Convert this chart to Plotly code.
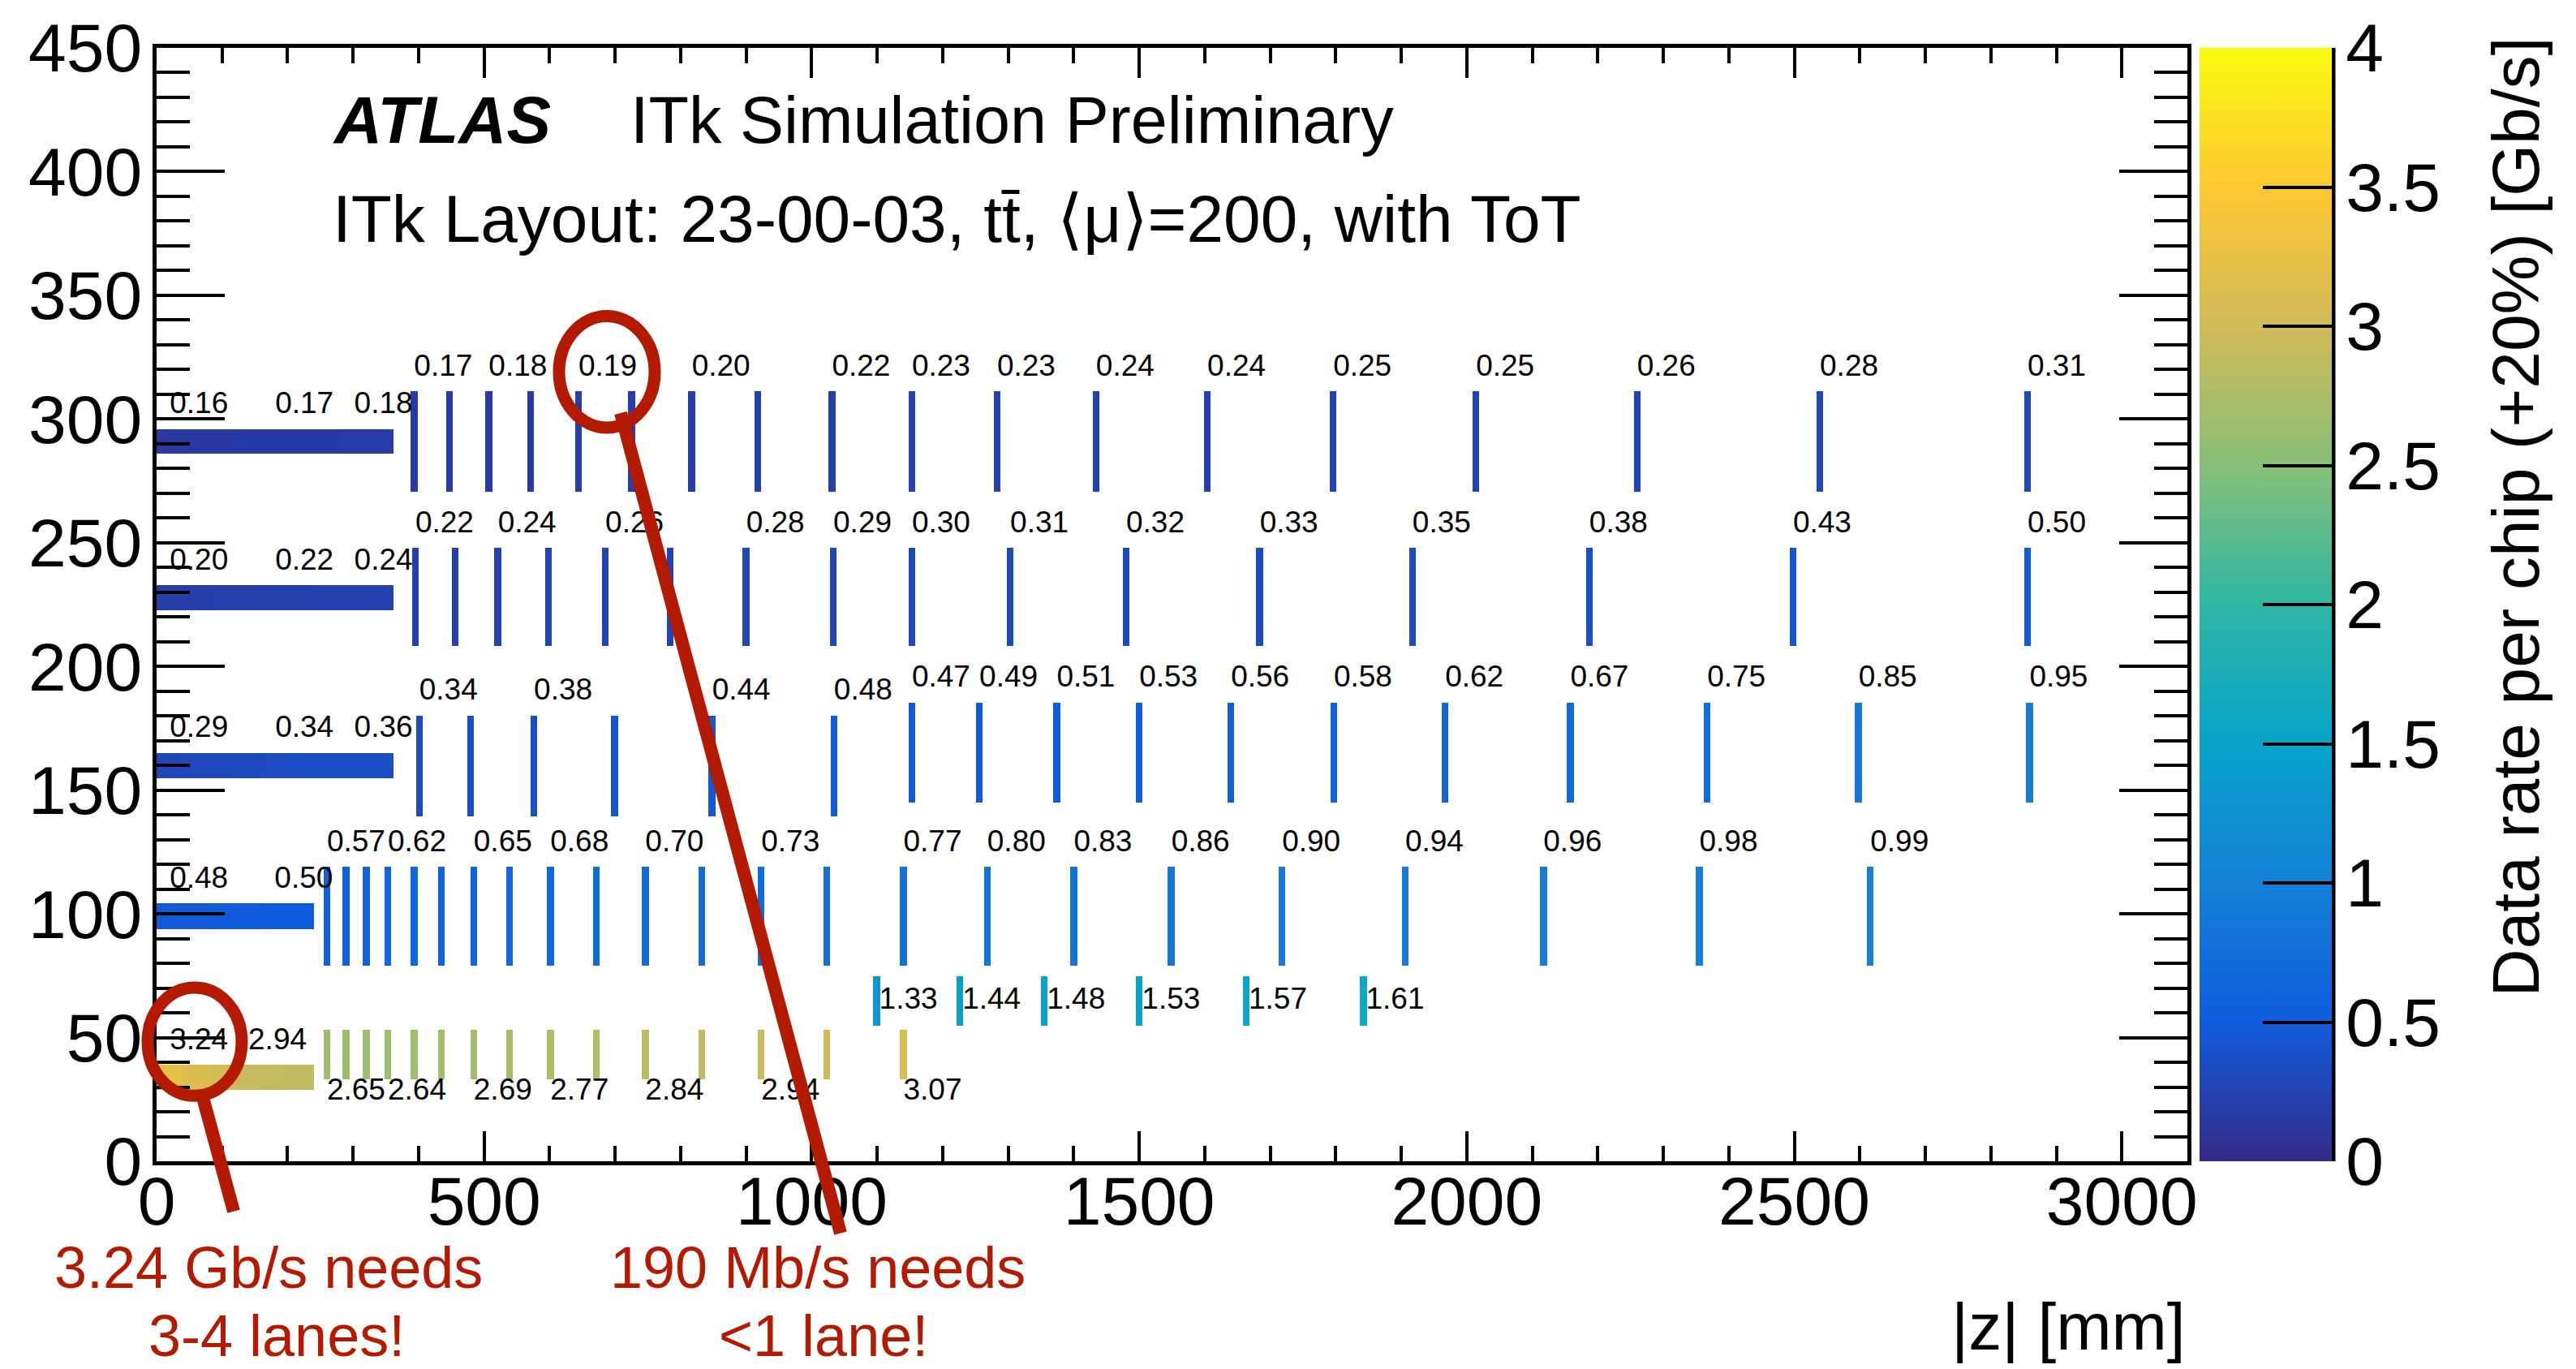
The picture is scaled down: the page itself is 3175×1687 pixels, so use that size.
import plotly.graph_objects as go

# ---------------------------------------------------------------------------
# Colour palette (ROOT kBird) and axis ticks
# ---------------------------------------------------------------------------
bird_stops = [0.0, 0.125, 0.25, 0.375, 0.5, 0.625, 0.75, 0.875, 1.0]
bird_red = [0.2082, 0.0592, 0.0780, 0.0232, 0.1802, 0.5301, 0.8186, 0.9956, 0.9764]
bird_green = [0.1664, 0.3599, 0.5041, 0.6419, 0.7178, 0.7492, 0.7328, 0.7862, 0.9832]
bird_blue = [0.5293, 0.8684, 0.8385, 0.7914, 0.6425, 0.4662, 0.3499, 0.1968, 0.0539]

rate_ticks = [0, 0.5, 1, 1.5, 2, 2.5, 3, 3.5, 4]
rate_tick_text = ["0", "0.5", "1", "1.5", "2", "2.5", "3", "3.5", "4"]
z_ticks = [0, 500, 1000, 1500, 2000, 2500, 3000]
r_ticks = [0, 50, 100, 150, 200, 250, 300, 350, 400, 450]

# ---------------------------------------------------------------------------
# Flat barrel staves: radial extent [mm], length along |z| [mm], module rates
# ---------------------------------------------------------------------------
barrel_r_lo = [28.8, 93.7, 154.8, 222.7, 286.1]
barrel_r_hi = [39.0, 104.3, 165.1, 232.8, 295.9]
barrel_length = [240, 240, 362, 362, 362]
l0_barrel_rate = [3.24, 3.12, 3.02, 2.94, 2.90, 2.88]
l1_barrel_rate = [0.48, 0.48, 0.49, 0.49, 0.50, 0.50]
l2_barrel_rate = [0.29, 0.30, 0.31, 0.33, 0.34, 0.35, 0.35, 0.36, 0.36]
l3_barrel_rate = [0.20, 0.20, 0.21, 0.21, 0.22, 0.22, 0.23, 0.24, 0.24]
l4_barrel_rate = [0.16, 0.16, 0.16, 0.17, 0.17, 0.17, 0.17, 0.18, 0.18]
barrel_labelled = [[0, 3], [0, 4], [0, 4, 7], [0, 4, 7], [0, 4, 7]]

# ---------------------------------------------------------------------------
# Inclined modules / rings: |z| position [mm], radial extent [mm], rates
# ---------------------------------------------------------------------------
l0_ring_z = [260, 289, 320, 353, 393, 435, 484, 539, 601, 671, 746, 832, 923, 1023, 1140]
l0_ring_rate = [2.65, 2.64, 2.64, 2.64, 2.65, 2.67, 2.69, 2.73, 2.77, 2.80, 2.84, 2.89,
                2.94, 3.00, 3.07]
l0_ring_r = (33.0, 53.1)
l0_ring_labelled = [0, 3, 6, 8, 10, 12, 14]

l0_outer_z = [1099, 1226, 1355, 1500, 1663, 1842]
l0_outer_rate = [1.33, 1.44, 1.48, 1.53, 1.57, 1.61]
l0_outer_r = (54.8, 74.9)
l0_outer_labelled = [0, 1, 2, 3, 4, 5]

l1_ring_z = [260, 289, 320, 353, 393, 435, 484, 539, 601, 671, 746, 832, 923, 1023, 1140,
             1268, 1400, 1549, 1718, 1906, 2117, 2355, 2616]
l1_ring_rate = [0.57, 0.59, 0.60, 0.62, 0.63, 0.64, 0.65, 0.67, 0.68, 0.69, 0.70, 0.72,
                0.73, 0.75, 0.77, 0.80, 0.83, 0.86, 0.90, 0.94, 0.96, 0.98, 0.99]
l1_ring_r = (79.0, 119.0)
l1_ring_labelled = [0, 3, 6, 8, 10, 12, 14, 15, 16, 17, 18, 19, 20, 21, 22]

l2_incl_z = [401, 479, 576, 699, 848, 1034]
l2_incl_rate = [0.34, 0.36, 0.38, 0.41, 0.44, 0.48]
l2_incl_r = (139.4, 180.2)
l2_incl_labelled = [0, 2, 4, 5]

l2_ring_z = [1153, 1256, 1374, 1500, 1640, 1797, 1967, 2158, 2367, 2598, 2859]
l2_ring_rate = [0.47, 0.49, 0.51, 0.53, 0.56, 0.58, 0.62, 0.67, 0.75, 0.85, 0.95]
l2_ring_r = (144.9, 185.4)
l2_ring_labelled = [0, 1, 2, 3, 4, 5, 6, 7, 8, 9, 10]

l3_ring_z = [395, 456, 521, 598, 685, 784, 900, 1033, 1153, 1303, 1480, 1684, 1917, 2187,
             2498, 2856]
l3_ring_rate = [0.22, 0.23, 0.24, 0.25, 0.26, 0.27, 0.28, 0.29, 0.30, 0.31, 0.32, 0.33,
                0.35, 0.38, 0.43, 0.50]
l3_ring_r = (208.3, 247.9)
l3_ring_labelled = [0, 2, 4, 6, 7, 8, 9, 10, 11, 12, 13, 14, 15]

l4_ring_z = [393, 447, 507, 571, 644, 725, 817, 918, 1031, 1153, 1283, 1434, 1604, 1796,
             2014, 2260, 2539, 2856]
l4_ring_rate = [0.17, 0.17, 0.18, 0.18, 0.19, 0.19, 0.20, 0.21, 0.22, 0.23, 0.23, 0.24,
                0.24, 0.25, 0.25, 0.26, 0.28, 0.31]
l4_ring_r = (270.7, 311.2)
l4_ring_labelled = [0, 2, 4, 6, 8, 9, 10, 11, 12, 13, 14, 15, 16, 17]

# ---------------------------------------------------------------------------
# Styling constants
# ---------------------------------------------------------------------------
FONT = "Liberation Sans, Arial, Helvetica, sans-serif"
RED = "#B31A00"
RING_WIDTH = 10.5          # mm along |z|
LABEL_GAP_ABOVE = 9.4      # mm above the module top
LABEL_GAP_BELOW = 4.9      # mm below the module bottom
W, H = 3175, 1687
PLOT_L, PLOT_T, PLOT_W, PLOT_H = 193, 53, 2503, 1378


def fx(px):
    return (px - PLOT_L) / PLOT_W


def fy(py):
    return (PLOT_T + PLOT_H - py) / PLOT_H


bird = [[s, "rgb({},{},{})".format(round(r * 255), round(g * 255), round(b * 255))]
        for s, r, g, b in zip(bird_stops, bird_red, bird_green, bird_blue)]

# ---------------------------------------------------------------------------
# Assemble bars and their value labels
# ---------------------------------------------------------------------------
labels = {"above": ([], [], []), "below": ([], [], []), "beside": ([], [], [])}


def add_label(where, z, r, value):
    xs, ys, ts = labels[where]
    xs.append(z)
    ys.append(r)
    ts.append("{:.2f}".format(value))


# barrel staves -> horizontal bars, one per module
barrel_rates = [l0_barrel_rate, l1_barrel_rate, l2_barrel_rate, l3_barrel_rate, l4_barrel_rate]
hb_y, hb_x, hb_base, hb_w, hb_c = [], [], [], [], []
for lo, hi, length, rates, lab in zip(barrel_r_lo, barrel_r_hi, barrel_length,
                                      barrel_rates, barrel_labelled):
    step = length / len(rates)
    for i, v in enumerate(rates):
        hb_y.append((lo + hi) / 2)
        hb_x.append(step)
        hb_base.append(i * step)
        hb_w.append(hi - lo)
        hb_c.append(v)
    for i in lab:
        z0 = (i + 0.5) * step
        add_label("above", z0, hi + LABEL_GAP_ABOVE, rates[i])

# inclined modules / rings -> vertical bars
ring_groups = [
    (l0_ring_z, l0_ring_rate, l0_ring_r, l0_ring_labelled, "below"),
    (l0_outer_z, l0_outer_rate, l0_outer_r, l0_outer_labelled, "beside"),
    (l1_ring_z, l1_ring_rate, l1_ring_r, l1_ring_labelled, "above"),
    (l2_incl_z, l2_incl_rate, l2_incl_r, l2_incl_labelled, "above"),
    (l2_ring_z, l2_ring_rate, l2_ring_r, l2_ring_labelled, "above"),
    (l3_ring_z, l3_ring_rate, l3_ring_r, l3_ring_labelled, "above"),
    (l4_ring_z, l4_ring_rate, l4_ring_r, l4_ring_labelled, "above"),
]
vb_x, vb_y, vb_base, vb_c = [], [], [], []
for zs, rates, (lo, hi), lab, where in ring_groups:
    for z, v in zip(zs, rates):
        vb_x.append(z)
        vb_base.append(lo)
        vb_y.append(hi - lo)
        vb_c.append(v)
    for i in lab:
        if where == "above":
            add_label(where, zs[i], hi + LABEL_GAP_ABOVE, rates[i])
        elif where == "below":
            add_label(where, zs[i], lo - LABEL_GAP_BELOW, rates[i])
        else:
            add_label(where, zs[i] + 4, (lo + hi) / 2, rates[i])

fig = go.Figure()
fig.add_trace(go.Bar(
    orientation="h", y=hb_y, x=hb_x, base=hb_base, width=hb_w,
    marker=dict(color=hb_c, coloraxis="coloraxis", line=dict(width=0)),
    hoverinfo="skip", showlegend=False,
))
fig.add_trace(go.Bar(
    x=vb_x, y=vb_y, base=vb_base, width=[RING_WIDTH] * len(vb_x),
    marker=dict(color=vb_c, coloraxis="coloraxis", line=dict(width=0)),
    hoverinfo="skip", showlegend=False,
))
for where, (xs, ys, ts) in labels.items():
    fig.add_trace(go.Scatter(
        x=xs, y=ys, text=ts, mode="text", textposition="middle right",
        textfont=dict(family=FONT, size=37, color="black"),
        cliponaxis=False, hoverinfo="skip", showlegend=False,
    ))

axis_common = dict(
    showline=True, linewidth=5, linecolor="black", mirror="ticks",
    ticks="inside", tickwidth=4, tickcolor="black",
    showgrid=False, zeroline=False, layer="above traces",
    tickfont=dict(family=FONT, size=84, color="black"),
)
fig.update_xaxes(
    range=[0, 3100], tickvals=z_ticks, ticktext=[str(t) for t in z_ticks],
    ticklen=37, ticklabelstandoff=-28,
    minor=dict(dtick=100, ticks="inside", ticklen=19, tickwidth=4, tickcolor="black"),
    **axis_common,
)
fig.update_yaxes(
    range=[0, 450], tickvals=r_ticks, ticktext=[str(t) for t in r_ticks],
    ticklen=84, ticklabelstandoff=-4,
    minor=dict(dtick=10, ticks="inside", ticklen=41, tickwidth=4, tickcolor="black"),
    **axis_common,
)

fig.update_layout(
    width=W, height=H,
    margin=dict(l=PLOT_L, r=W - PLOT_L - PLOT_W, t=PLOT_T, b=H - PLOT_T - PLOT_H),
    paper_bgcolor="white", plot_bgcolor="white",
    barmode="overlay", bargap=0,
    font=dict(family=FONT, color="black"),
    coloraxis=dict(
        colorscale=bird, cmin=0, cmax=4,
        colorbar=dict(
            x=fx(2711), xanchor="left", xpad=0, y=0.5, yanchor="middle", ypad=0,
            len=1, lenmode="fraction", thickness=163, thicknessmode="pixels",
            outlinewidth=0, ticks="inside", ticklen=85, tickwidth=4, tickcolor="black",
            tickvals=rate_ticks, ticktext=rate_tick_text,
            tickfont=dict(family=FONT, size=84, color="black"),
        ),
    ),
)

# colour-bar axis line
fig.add_shape(type="line", xref="paper", yref="paper", x0=fx(2876), x1=fx(2876),
              y0=0, y1=1, line=dict(color="black", width=5))

# headers and axis titles
fig.add_annotation(text="<b><i>ATLAS</i></b>", xref="paper", yref="paper",
                   x=fx(409), y=fy(142), xanchor="left", yanchor="middle",
                   showarrow=False, borderpad=0, font=dict(family=FONT, size=82))
fig.add_annotation(text="ITk Simulation Preliminary", xref="paper", yref="paper",
                   x=fx(776), y=fy(142), xanchor="left", yanchor="middle",
                   showarrow=False, borderpad=0, font=dict(family=FONT, size=81))
fig.add_annotation(text="ITk Layout: 23-00-03, tt\u0304, \u27e8\u03bc\u27e9=200, with ToT",
                   xref="paper", yref="paper",
                   x=fx(409), y=fy(264), xanchor="left", yanchor="middle",
                   showarrow=False, borderpad=0, font=dict(family=FONT, size=82))
fig.add_annotation(text="|z| [mm]", xref="paper", yref="paper",
                   x=fx(2695), y=fy(1635), xanchor="right", yanchor="middle",
                   showarrow=False, borderpad=0, font=dict(family=FONT, size=82))
fig.add_annotation(text="Data rate per chip (+20%) [Gb/s]", xref="paper", yref="paper",
                   x=fx(3100), y=fy(634), xanchor="center", yanchor="middle",
                   textangle=-90, showarrow=False, borderpad=0,
                   font=dict(family=FONT, size=82))

# highlighted callouts
for txt, cx, cy in [("3.24 Gb/s needs", 331, 1563), ("3-4 lanes!", 341, 1647),
                    ("190 Mb/s needs", 1008, 1563), ("&lt;1 lane!", 1015, 1647)]:
    fig.add_annotation(text=txt, xref="paper", yref="paper", x=fx(cx), y=fy(cy),
                       xanchor="center", yanchor="middle", showarrow=False, borderpad=0,
                       font=dict(family=FONT, size=72, color=RED))

for x0, y0, x1, y1 in [(182, 1216, 298, 1350), (689, 385, 807, 523)]:
    fig.add_shape(type="circle", xref="paper", yref="paper",
                  x0=fx(x0), x1=fx(x1), y0=fy(y1), y1=fy(y0),
                  line=dict(color=RED, width=15), fillcolor="rgba(0,0,0,0)")
for x0, y0, x1, y1 in [(250, 1352, 288, 1493), (765, 505, 1036, 1520)]:
    fig.add_shape(type="line", xref="paper", yref="paper",
                  x0=fx(x0), y0=fy(y0), x1=fx(x1), y1=fy(y1),
                  line=dict(color=RED, width=16))

fig.write_html("out.html")
